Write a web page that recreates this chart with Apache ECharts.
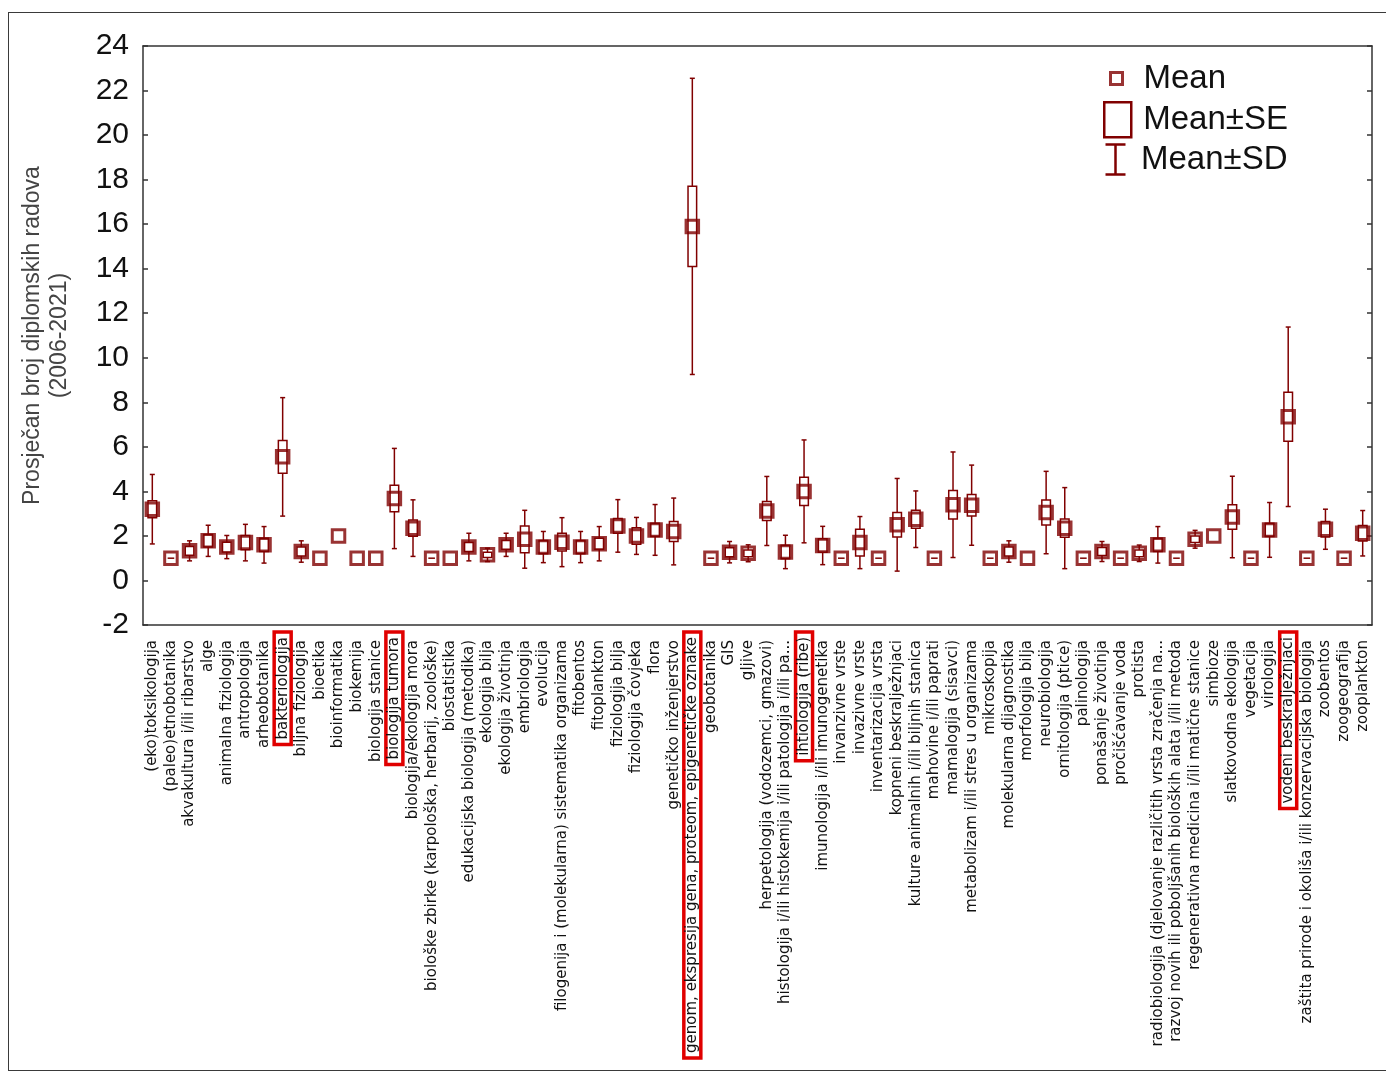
<!DOCTYPE html>
<html><head><meta charset="utf-8">
<script src="https://cdn.jsdelivr.net/npm/echarts@6/dist/echarts.min.js"></script>
<style>
html,body{margin:0;padding:0;background:#fff;overflow:hidden;}
#frame{position:absolute;left:8px;top:12px;width:1400px;height:1057px;border:1px solid #3a3a3a;}
#chart{position:absolute;left:0;top:0;width:1386px;height:1073px;}
</style></head><body>
<div id="frame"></div><div id="chart"></div>
<script>
const categories = [
 "(eko)toksikologija","(paleo)etnobotanika","akvakultura i/ili ribarstvo","alge","animalna fiziologija",
 "antropologija","arheobotanika","bakteriologija","biljna fiziologija","bioetika",
 "bioinformatika","biokemija","biologija stanice","biologija tumora","biologija/ekologija mora",
 "biološke zbirke (karpološka, herbarij, zoološke)","biostatistika","edukacijska biologija (metodika)","ekologija bilja","ekologija životinja",
 "embriologija","evolucija","filogenija i (molekularna) sistematika organizama","fitobentos","fitoplankton",
 "fiziologija bilja","fiziologija čovjeka","flora","genetičko inženjerstvo","genom, ekspresija gena, proteom, epigenetičke oznake",
 "geobotanika","GIS","gljive","herpetologija (vodozemci, gmazovi)","histologija i/ili histokemija i/ili patologija i/ili pa...",
 "ihtiologija (ribe)","imunologija i/ili imunogenetika","invanzivne vrste","invazivne vrste","inventarizacija vrsta",
 "kopneni beskralježnjaci","kulture animalnih i/ili biljnih stanica","mahovine i/ili paprati","mamalogija (sisavci)","metabolizam i/ili stres u organizama",
 "mikroskopija","molekularna dijagnostika","morfologija bilja","neurobiologija","ornitologija (ptice)",
 "palinologija","ponašanje životinja","pročišćavanje voda","protista","radiobiologija (djelovanje različitih vrsta zračenja na...",
 "razvoj novih ili poboljšanih bioloških alata i/ili metoda","regenerativna medicina i/ili matične stanice","simbioze","slatkovodna ekologija","vegetacija",
 "virologija","vodeni beskralježnjaci","zaštita prirode i okoliša i/ili konzervacijska biologija","zoobentos","zoogeografija",
 "zooplankton"
];
const meanValues = [
 3.2,1,1.33,1.78,1.5, 1.7,1.6,5.55,1.3,1, 2,1,1,3.68,2.35, 1,1,1.5,1.15,1.6,
 1.85,1.5,1.72,1.5,1.65, 2.45,2.0,2.27,2.2,15.9, 1,1.27,1.22,3.12,1.28, 4.0,1.57,1,1.7,1,
 2.5,2.75,1,3.4,3.38, 1,1.3,1,3.05,2.35, 1,1.3,1,1.22,1.6, 1,1.85,2,2.85,1,
 2.27,7.35,1,2.3,1, 2.12
];
const seValues = [
 0.38,0,0.2,0.28,0.22, 0.32,0.3,0.74,0.2,null, null,null,null,0.6,0.37, 0,null,0.2,0.12,0.2,
 0.6,0.3,0.4,0.3,0.25, 0.33,0.37,0.3,0.45,1.8, 0,0.2,0.15,0.43,0.3, 0.63,0.3,0,0.6,0,
 0.55,0.4,0,0.64,0.48, 0,0.2,null,0.56,0.41, 0,0.18,0,0.15,0.3, 0,0.15,null,0.55,0,
 0.3,1.1,0,0.35,0, 0.35
];
const sdValues = [
 1.56,0,0.45,0.7,0.52, 0.82,0.82,2.66,0.48,null, null,null,null,2.25,1.27, 0,null,0.62,0.3,0.52,
 1.3,0.7,1.1,0.7,0.77, 1.18,0.83,1.14,1.5,6.65, 0,0.48,0.38,1.55,0.75, 2.31,0.86,0,1.17,0,
 2.08,1.27,0,2.37,1.8, 0,0.48,null,1.85,1.82, 0,0.45,0,0.37,0.82, 0,0.4,null,1.83,0,
 1.23,4.03,0,0.9,0, 1.02
];
const yMin = -2, yMax = 24, yStep = 2;
const highlighted = ["bakteriologija","biologija tumora","genom, ekspresija gena, proteom, epigenetičke oznake","ihtiologija (ribe)","vodeni beskralježnjaci"];

const COLOR = '#800000';
const meanData = [], seData = [], sdData = [];
categories.forEach((c, i) => {
  const m = meanValues[i];
  meanData.push([i, m]);
  if (seValues[i] !== null) seData.push([i, m - seValues[i], m + seValues[i]]);
  if (sdValues[i] !== null && sdValues[i] > 0) sdData.push([i, m - sdValues[i], m + sdValues[i]]);
});

function renderSD(params, api) {
  const i = api.value(0);
  const top = api.coord([i, api.value(2)]);
  const bot = api.coord([i, api.value(1)]);
  const x = top[0], c = 2.5;
  const style = {stroke: COLOR, lineWidth: 1.5, fill: null};
  return {type: 'group', children: [
    {type: 'line', shape: {x1: x, y1: top[1], x2: x, y2: bot[1]}, style: style},
    {type: 'line', shape: {x1: x - c, y1: top[1], x2: x + c, y2: top[1]}, style: style},
    {type: 'line', shape: {x1: x - c, y1: bot[1], x2: x + c, y2: bot[1]}, style: style}
  ]};
}
function renderSE(params, api) {
  const i = api.value(0);
  const top = api.coord([i, api.value(2)]);
  const bot = api.coord([i, api.value(1)]);
  const w = 8.6;
  if (Math.abs(bot[1] - top[1]) < 0.5) {
    return {type: 'line', shape: {x1: top[0] - w / 2 + 1, y1: top[1], x2: top[0] + w / 2 - 1, y2: top[1]}, style: {stroke: COLOR, lineWidth: 1.5}};
  }
  return {type: 'rect', shape: {x: top[0] - w / 2, y: top[1], width: w, height: bot[1] - top[1]},
          style: {fill: '#fff', stroke: COLOR, lineWidth: 1.5}};
}

const labelFont = 'DejaVu Sans';
const legendText = {fontSize: 33, color: '#111', fontFamily: 'Liberation Sans'};
const chart = echarts.init(document.getElementById('chart'), null, {renderer: 'canvas'});
chart.setOption({
  animation: false,
  backgroundColor: 'transparent',
  grid: {left: 143, right: 14, top: 46, bottom: 448, containLabel: false},
  legend: [
    {data: [{name: 'Mean', icon: 'rect', itemStyle: {color: 'rgba(0,0,0,0)', borderColor: COLOR, borderWidth: 3}}],
     left: 1109, top: 62, padding: 0, itemWidth: 12, itemHeight: 12, selectedMode: false,
     textStyle: Object.assign({padding: [0, 0, 0, 16]}, legendText)},
    {data: [{name: 'Mean±SE', icon: 'rect', itemStyle: {color: 'rgba(0,0,0,0)', borderColor: COLOR, borderWidth: 2.5}}],
     left: 1103, top: 101, padding: 0, itemWidth: 27, itemHeight: 35, selectedMode: false,
     textStyle: Object.assign({padding: [0, 0, 0, 7]}, legendText)},
    {data: [{name: 'Mean±SD', icon: 'path://M0,0L20,0M10,0L10,30M0,30L20,30', itemStyle: {color: 'none', borderColor: COLOR, borderWidth: 2.5}}],
     left: 1103, top: 142, padding: 0, itemWidth: 27, itemHeight: 30, selectedMode: false,
     textStyle: Object.assign({padding: [0, 0, 0, 7]}, legendText)}
  ],
  xAxis: [
    {type: 'category', data: categories, position: 'bottom',
     axisLine: {onZero: false, lineStyle: {color: '#333', width: 1.5}},
     axisTick: {inside: true, length: 5, alignWithLabel: true, interval: 0, lineStyle: {color: '#333', width: 1.5}},
     axisLabel: {interval: 0, rotate: 90, margin: 7, color: '#111',
       formatter: function (v) { return (highlighted.indexOf(v) >= 0 ? '{hl|' : '{n|') + v + '}'; },
       rich: {
         n: {fontSize: 15, fontFamily: labelFont, color: '#111', lineHeight: 16, padding: [2, 8, 2, 8]},
         hl: {fontSize: 15, fontFamily: labelFont, color: '#111', lineHeight: 16, padding: [1, 5, 1, 5], borderColor: '#e00000', borderWidth: 3.5}
       }},
     splitLine: {show: false}},
    {type: 'category', data: categories, position: 'top',
     axisLine: {onZero: false, lineStyle: {color: '#333', width: 1.5}},
     axisTick: {inside: true, length: 5, alignWithLabel: true, interval: 0, lineStyle: {color: '#333', width: 1.5}},
     axisLabel: {show: false}, splitLine: {show: false}}
  ],
  yAxis: [
    {type: 'value', min: yMin, max: yMax, interval: yStep, position: 'left',
     name: 'Prosječan broj diplomskih radova\n(2006-2021)', nameLocation: 'middle', nameGap: 70,
     nameTextStyle: {fontSize: 23, color: '#444', fontFamily: 'Liberation Sans', lineHeight: 27},
     axisLine: {show: true, onZero: false, lineStyle: {color: '#333', width: 1.5}},
     axisTick: {show: true, inside: true, length: 5, lineStyle: {color: '#333', width: 1.5}},
     axisLabel: {fontSize: 30, color: '#111', fontFamily: 'Liberation Sans', margin: 14},
     splitLine: {show: false}},
    {type: 'value', min: yMin, max: yMax, interval: yStep, position: 'right',
     axisLine: {show: true, onZero: false, lineStyle: {color: '#333', width: 1.5}},
     axisTick: {show: true, inside: true, length: 5, lineStyle: {color: '#333', width: 1.5}},
     axisLabel: {show: false}, splitLine: {show: false}}
  ],
  series: [
    {name: 'Mean±SD', type: 'custom', renderItem: renderSD, data: sdData, encode: {x: 0, y: [1, 2]}, z: 1, silent: true},
    {name: 'Mean±SE', type: 'custom', renderItem: renderSE, data: seData, encode: {x: 0, y: [1, 2]}, z: 2, silent: true},
    {name: 'Mean', type: 'scatter', data: meanData, symbol: 'rect', symbolSize: 12.5, z: 3, silent: true,
     itemStyle: {color: 'rgba(255,255,255,0)', borderColor: COLOR, borderWidth: 3}}
  ]
});
</script>
</body></html>
